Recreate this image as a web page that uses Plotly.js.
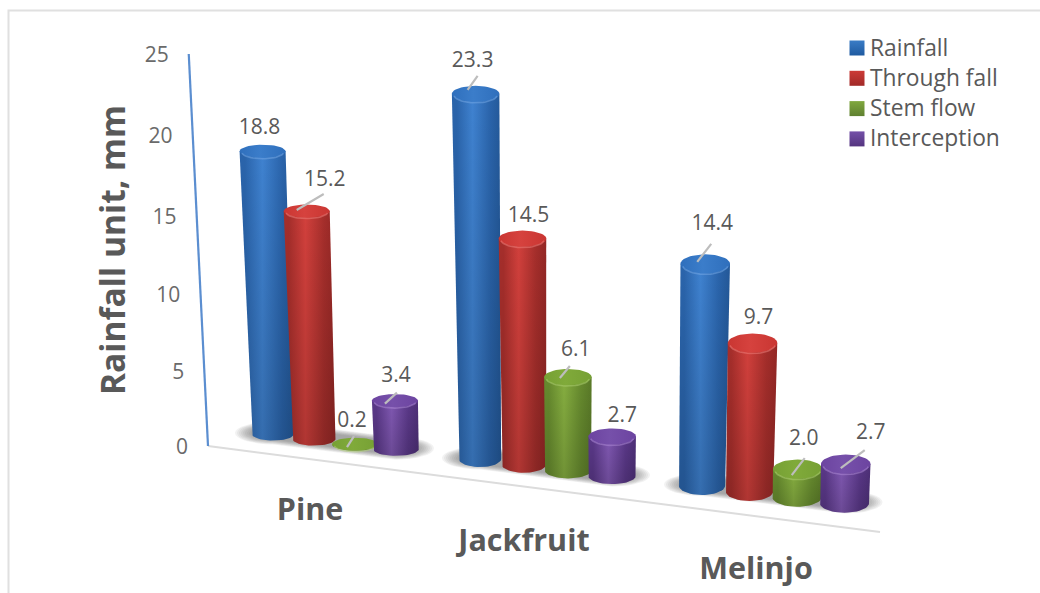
<!DOCTYPE html>
<html>
<head>
<meta charset="utf-8">
<script src="https://cdn.plot.ly/plotly-3.0.1.min.js"></script>
<style>html,body{margin:0;padding:0;background:#fff}#chart{width:1040px;height:593px}</style>
</head>
<body>
<div id="chart"></div>
<script>
// Values
const categories = ['Pine', 'Jackfruit', 'Melinjo'];
const seriesNames = ['Rainfall', 'Through fall', 'Stem flow', 'Interception'];
const rainfall = [18.8, 23.3, 14.4];
const throughFall = [15.2, 14.5, 9.7];
const stemFlow = [0.2, 6.1, 2.0];
const interception = [3.4, 2.7, 2.7];
const seriesValues = [rainfall, throughFall, stemFlow, interception];
const axisTicks = [0, 5, 10, 15, 20, 25];

// Cylinder colours: dark edge, highlight, far edge, cap, cap highlight, rim
const palette = [
  {a:'#2a64ab', b:'#3f82d0', c:'#235898', cap:'#2f6fbc', capHi:'#3b7dca', rim:'rgba(120,170,230,.5)', key:'#3a7cc6'},
  {a:'#a52e2b', b:'#d2403c', c:'#942725', cap:'#c93632', capHi:'#d6423e', rim:'rgba(240,130,125,.5)', key:'#cc3b37'},
  {a:'#668a2e', b:'#86ae40', c:'#5a7a28', cap:'#76a034', capHi:'#80aa3a', rim:'rgba(175,210,115,.5)', key:'#80a83e'},
  {a:'#5a3888', b:'#8058b2', c:'#4e3078', cap:'#6c44a0', capHi:'#7650aa', rim:'rgba(175,140,215,.5)', key:'#7450a8'}
];
const keyDark = ['#1f5aa0', '#a12a28', '#5f8030', '#54347f'];

// Perspective of the floor: one entry per category
const groupX = [273, 480, 702];
const groupY = [434, 459, 485.5];
const seriesGap = [41, 44, 47.5];
const floorDrop = [5.1, 5.7, 5.9];
const topWidth = [46, 47.5, 49.5];
const capRy = [6.5, 8, 9.5];
const unitHeight = [15.2, 15.8, 15.6];
const vanishX = 580, leanRate = 0.00012, taper = 0.0003, bevel = 3;

// Vertical axis scale, expressed for a value axis spanning the whole figure
const W = 1040, H = 593, zeroPy = 446, unitPy = 15.68;
const toVal = py => (zeroPy - py) / unitPy;

// Label placement relative to the cylinder top centre, and whether it has a leader
const labelDX = [[-3, 18, -3, 1], [-3, 6, 8, 10], [7, 6, 6, 25]];
const labelDY = [[-22, -30, -22, -24], [-32, -22, -26, -20], [-39, -24, -29, -30]];
const leaderFrom = [[null, [-10, -1], [-8, 3], [-10, 3]], [[-8, -4], null, [-8, 1], null], [[-8, -2], null, [-6, 6], [-5, 4]]];
const leaderTo = [[null, [17, -17], [-1, -8], [2, -8]], [[2, -18], null, [2, -11], null], [[6, -20], null, [7, -11], [19, -14]]];

const traces = [];
const arc = (cx, cy, rx, ry, from, to, n) => {
  const xs = [], ys = [];
  for (let i = 0; i <= n; i++) {
    const t = from + (to - from) * i / n;
    xs.push(cx + rx * Math.cos(t));
    ys.push(cy + ry * Math.sin(t));
  }
  return [xs, ys];
};
const fillTrace = (xs, ys, extra) => Object.assign({
  type: 'scatter', mode: 'lines', x: xs, y: ys.map(toVal), fill: 'toself',
  line: {width: 0}, hoverinfo: 'skip', showlegend: false
}, extra);
const lineTrace = (xs, ys, color, width) => ({
  type: 'scatter', mode: 'lines', x: xs, y: ys.map(toVal),
  line: {color: color, width: width}, hoverinfo: 'skip', showlegend: false
});

// Frame, floor line and value axis line
traces.push(lineTrace([8.5, 8.5, W], [H, 10.5, 10.5], '#e0e0e0', 2));
traces.push(lineTrace([208, 880], [446, 532], '#dcdcdc', 2));
const axisTop = [208 + (208 - vanishX) * leanRate * 25 * unitPy * 1.1, zeroPy - 25 * unitPy];
traces.push(lineTrace([208, axisTop[0]], [446, axisTop[1]], '#5b8ed0', 2.2));

// Soft floor shadow, built from widening translucent bands under every group
categories.forEach((cat, g) => {
  const last = seriesNames.length - 1;
  const x0 = groupX[g], y0 = groupY[g] - 1;
  const x1 = groupX[g] + last * seriesGap[g], y1 = groupY[g] + last * floorDrop[g] - 1;
  [38, 36, 34, 32, 30, 28, 26, 24, 22].forEach(rx => {
    const ry = rx * 0.3;
    const left = arc(x0, y0, rx, ry, Math.PI * 1.5, Math.PI * 0.5, 16);
    const right = arc(x1, y1, rx, ry, Math.PI * 0.5, -Math.PI * 0.5, 16);
    traces.push(fillTrace(left[0].concat(right[0]), left[1].concat(right[1]), {fillcolor: 'rgba(85,85,85,.08)'}));
  });
});

const labelX = [], labelY = [], labelText = [];
const leaders = [];
categories.forEach((cat, g) => {
  seriesNames.forEach((name, s) => {
    const v = seriesValues[s][g], col = palette[s];
    const bx = groupX[g] + s * seriesGap[g];
    const by = groupY[g] + s * floorDrop[g];
    const h = Math.max(0, unitHeight[g] * v - bevel);
    const tx = bx + (bx - vanishX) * leanRate * h;
    const ty = by - h;
    const rxTop = topWidth[g] / 2;
    const rxBase = rxTop * (1 - taper * h);
    const ry = capRy[g];
    if (h > 0) {
      const base = arc(bx, by, rxBase, ry, Math.PI, 0, 24);
      const xs = [tx - rxTop].concat(base[0], [tx + rxTop]);
      const ys = [ty].concat(base[1], [ty]);
      traces.push(fillTrace(xs, ys, {
        fillgradient: {type: 'horizontal', colorscale: [[0, col.a], [0.1, col.a], [0.42, col.b], [0.78, col.a], [1, col.c]]}
      }));
      // The lower part of a cylinder falls slightly into shade
      traces.push(fillTrace(xs, ys, {
        fillgradient: {type: 'vertical', colorscale: [[0, 'rgba(0,0,0,0.16)'], [1, 'rgba(0,0,0,0)']]}
      }));
    }
    const cap = arc(tx, ty, rxTop, ry, 0, 2 * Math.PI, 48);
    traces.push(fillTrace(cap[0], cap[1], {
      fillgradient: {type: 'horizontal', colorscale: [[0, col.cap], [0.45, col.capHi], [1, col.cap]]}
    }));
    if (h > 0) {
      const rim = arc(tx, ty + 1, rxTop - 2, ry, Math.PI * 0.95, Math.PI * 0.05, 24);
      traces.push(lineTrace(rim[0], rim[1], col.rim, 1.6));
    }
    labelX.push(tx + labelDX[g][s]);
    labelY.push(toVal(ty + labelDY[g][s]));
    labelText.push(v.toFixed(1));
    if (leaderFrom[g][s]) {
      leaders.push([tx + leaderFrom[g][s][0], ty + leaderFrom[g][s][1], tx + leaderTo[g][s][0], ty + leaderTo[g][s][1]]);
    }
  });
});

// Leader lines run over the cylinder tops
leaders.forEach(l => traces.push(lineTrace([l[0], l[2]], [l[1], l[3]], '#bdbdbd', 2.2)));

const font = '"Open Sans", "Noto Sans", sans-serif';

// Data labels
traces.push({type: 'scatter', mode: 'text', x: labelX, y: labelY, text: labelText, textposition: 'middle center',
  textfont: {family: font, size: 21, color: '#595959'}, hoverinfo: 'skip', showlegend: false, cliponaxis: false});

// Value tick labels follow the leaning axis; the shift keeps them on the receding wall
const tickOffset = 20;
const tickShift = [2.5, 6, 7.3, 7.7, 5, 2.5];
traces.push({type: 'scatter', mode: 'text',
  x: axisTicks.map(t => 208 + (208 - vanishX) * leanRate * t * unitPy * 1.1 - tickOffset),
  y: axisTicks.map((t, i) => t - tickShift[i] / unitPy), text: axisTicks.map(String), textposition: 'middle left',
  textfont: {family: font, size: 21, color: '#6a6a6a'}, hoverinfo: 'skip', showlegend: false, cliponaxis: false});

// Category labels sit below the sloping floor
const catDX = [37, 44, 54], catDY = [78, 84, 85.5];
traces.push({type: 'scatter', mode: 'text',
  x: categories.map((c, g) => groupX[g] + catDX[g]),
  y: categories.map((c, g) => toVal(groupY[g] + catDY[g])),
  text: categories.map(c => '<b>' + c + '</b>'), textposition: 'middle center',
  textfont: {family: font, size: 30.5, color: '#595959'}, hoverinfo: 'skip', showlegend: false, cliponaxis: false});

// Key: bevelled swatch and series name, one row per series
const keyX = 857, keyTextX = 870, keyTop = 48, keyStep = 30.3;
seriesNames.forEach((name, s) => {
  traces.push({type: 'scatter', mode: 'markers', name: name,
    x: [keyX], y: [toVal(keyTop + s * keyStep)],
    marker: {symbol: 'square', size: 15, color: palette[s].key, line: {width: 0},
      gradient: {type: 'vertical', color: keyDark[s]}},
    hoverinfo: 'skip', showlegend: false});
  traces.push({type: 'scatter', mode: 'text', x: [keyTextX], y: [toVal(keyTop + 2 + s * 30)],
    text: [name], textposition: 'middle right',
    textfont: {family: font, size: 22.8, color: '#595959'}, hoverinfo: 'skip', showlegend: false, cliponaxis: false});
});

const layout = {
  width: W, height: H,
  margin: {l: 0, r: 0, t: 0, b: 0},
  paper_bgcolor: '#fff', plot_bgcolor: '#fff',
  showlegend: false,
  xaxis: {range: [0, W], visible: false, fixedrange: true},
  yaxis: {range: [toVal(H), toVal(0)], visible: false, fixedrange: true},
  annotations: [{
    text: '<b>Rainfall unit, mm</b>', xref: 'x', yref: 'paper', x: 112, y: 1 - 250 / H, textangle: -90,
    showarrow: false, font: {family: font, size: 33.5, color: '#595959'}
  }]
};
Plotly.newPlot('chart', traces, layout, {displayModeBar: false, staticPlot: true});
</script>
</body>
</html>
